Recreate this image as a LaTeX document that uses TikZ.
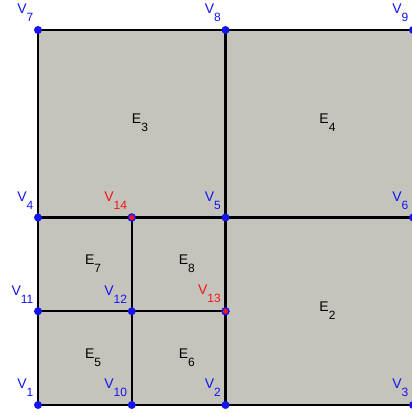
\documentclass[tikz,border=0pt]{standalone}
\usepackage{fontspec}
\setmainfont{Liberation Sans}
\usepackage{xcolor}
\definecolor{meshFill}{RGB}{196,195,188}
\definecolor{meshBlue}{RGB}{20,20,240}
\definecolor{meshRed}{RGB}{245,20,20}
\usetikzlibrary{calc}

\newcommand{\lowsub}[1]{\raisebox{-8pt}{\fontsize{12}{13}\selectfont#1}}

\begin{document}
\begin{tikzpicture}[
  x=93.75pt,y=93.75pt,
  vtx/.style={circle,fill=meshBlue,inner sep=0pt,minimum size=8pt},
  hang/.style={vtx,fill=meshRed,draw=meshBlue,line width=1.4pt,minimum size=7pt},
  vname/.style={anchor=south east,inner sep=0pt,font=\fontsize{14}{15}\selectfont},
  ename/.style={anchor=base west,inner sep=0pt,font=\fontsize{14}{15}\selectfont},
  meshline/.style={line width=2.2pt,black}]

  \clip (-0.4053,-0.1067) rectangle (3.9893,4.32);

  \foreach \i/\x/\y in {1/0/0,2/2/0,3/4/0,4/0/2,5/2/2,6/4/2,7/0/4,8/2/4,9/4/4,
                        10/1/0,11/0/1,12/1/1,13/2/1,14/1/2}
    \coordinate (v\i) at (\x,\y);

  \fill[meshFill] (v1) rectangle (v9);

  \foreach \a/\b in {1/10,10/2,2/3,11/12,12/13,4/14,14/5,5/6,7/8,8/9,
                     1/11,11/4,4/7,10/12,12/14,2/13,13/5,5/8}
    \draw[meshline] (v\a) -- (v\b);

  \foreach \i/\c/\s in {1/meshBlue/vtx,2/meshBlue/vtx,3/meshBlue/vtx,4/meshBlue/vtx,
                        5/meshBlue/vtx,6/meshBlue/vtx,7/meshBlue/vtx,8/meshBlue/vtx,
                        9/meshBlue/vtx,10/meshBlue/vtx,11/meshBlue/vtx,12/meshBlue/vtx,
                        13/meshRed/hang,14/meshRed/hang}{
    \node[\s] (p\i) at (v\i) {};
    \node[vname,text=\c] (l\i) at ([shift={(-4.5pt,8pt)}]p\i.center) {V\lowsub{\i}};
  }

  \foreach \k/\x/\y in {3/1/3,4/3/3,2/3/1,7/0.5/1.5,8/1.5/1.5,5/0.5/0.5,6/1.5/0.5}
    \node[ename] (e\k) at (\x,\y) {E\lowsub{\k}};
\end{tikzpicture}
\end{document}
